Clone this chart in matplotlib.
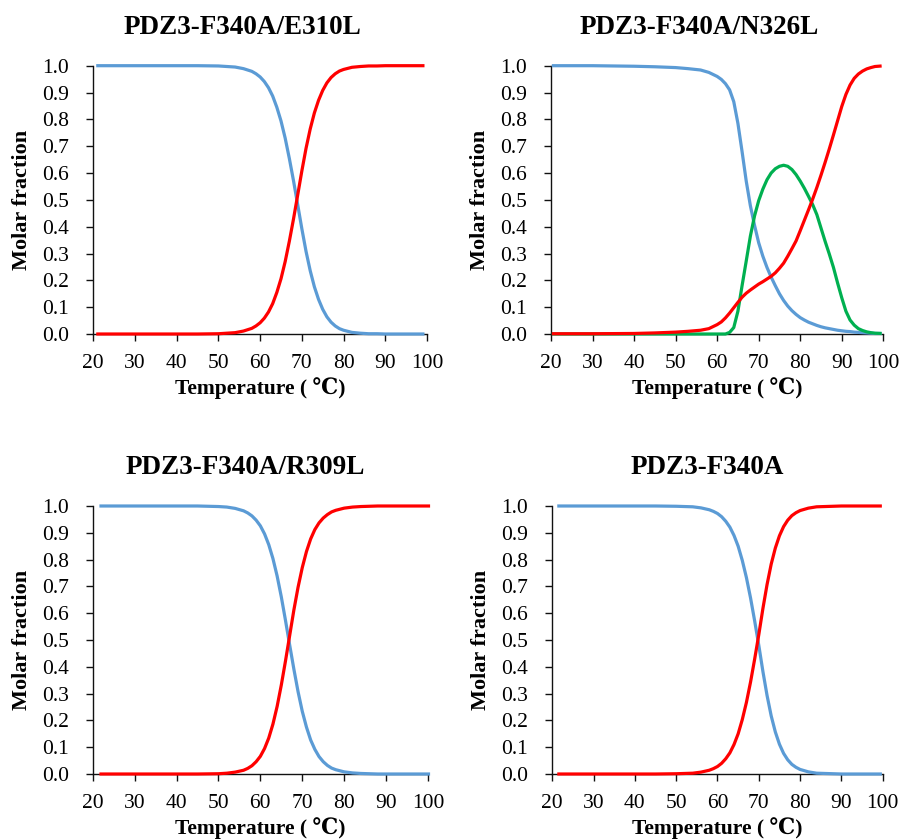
import matplotlib
matplotlib.use("Agg")
import matplotlib.pyplot as plt

plt.rcParams['font.family'] = ['Liberation Serif', 'DejaVu Serif', 'DejaVu Sans']

# ---- data ----
# PDZ3-F340A/E310L
temp_e310l = [20.7, 30, 40, 45, 50, 52, 54, 56, 58, 59, 60, 61, 62, 63, 64, 65, 66, 67, 68, 69,
              70, 71, 72, 73, 74, 75, 76, 77, 78, 79, 80, 82, 84, 86, 88, 90, 95, 99.4]
native_e310l = [1.000, 1.000, 1.000, 1.000, 0.999, 0.997, 0.995, 0.989, 0.979, 0.970, 0.958, 0.941,
                0.918, 0.887, 0.845, 0.794, 0.730, 0.654, 0.571, 0.482, 0.392, 0.308, 0.236, 0.176,
                0.129, 0.092, 0.064, 0.044, 0.030, 0.020, 0.014, 0.006, 0.003, 0.001, 0.001, 0.000,
                0.000, 0.000]
unfolded_e310l = [0.000, 0.000, 0.000, 0.000, 0.001, 0.003, 0.005, 0.011, 0.021, 0.030, 0.042, 0.059,
                  0.082, 0.113, 0.155, 0.206, 0.270, 0.346, 0.429, 0.518, 0.608, 0.692, 0.764, 0.824,
                  0.871, 0.908, 0.936, 0.956, 0.970, 0.980, 0.986, 0.994, 0.997, 0.999, 0.999, 1.000,
                  1.000, 1.000]

# PDZ3-F340A/N326L (three-state)
temp_n326l = [20.2, 30, 40, 45, 50, 53, 56, 58, 60, 61, 62, 63, 64, 65, 66, 67, 68, 69, 70, 71, 72,
              73, 74, 75, 76, 77, 78, 79, 80, 81, 82, 83, 84, 85, 86, 87, 88, 89, 90, 91, 92, 93, 94,
              95, 96, 97, 98, 99.6]
native_n326l = [1.000, 1.000, 0.998, 0.996, 0.993, 0.989, 0.984, 0.975, 0.960, 0.949, 0.933, 0.910,
                0.866, 0.785, 0.680, 0.570, 0.478, 0.405, 0.340, 0.290, 0.248, 0.212, 0.180, 0.150,
                0.125, 0.104, 0.087, 0.073, 0.061, 0.052, 0.044, 0.038, 0.032, 0.027, 0.023, 0.020,
                0.017, 0.014, 0.012, 0.010, 0.009, 0.007, 0.006, 0.005, 0.004, 0.003, 0.002, 0.002]
intermediate_n326l = [0.000, 0.000, 0.000, 0.000, 0.000, 0.000, 0.000, 0.000, 0.000, 0.000, 0.000,
                      0.006, 0.024, 0.085, 0.180, 0.272, 0.365, 0.440, 0.497, 0.540, 0.575, 0.600,
                      0.616, 0.625, 0.629, 0.625, 0.613, 0.594, 0.570, 0.543, 0.513, 0.482, 0.445,
                      0.395, 0.345, 0.298, 0.248, 0.190, 0.135, 0.085, 0.052, 0.033, 0.020, 0.013,
                      0.008, 0.005, 0.003, 0.002]
unfolded_n326l = [0.001, 0.001, 0.002, 0.004, 0.007, 0.010, 0.014, 0.020, 0.035, 0.045, 0.060, 0.078,
                  0.098, 0.118, 0.137, 0.152, 0.164, 0.175, 0.186, 0.195, 0.205, 0.215, 0.228, 0.245,
                  0.264, 0.290, 0.318, 0.347, 0.385, 0.424, 0.463, 0.503, 0.546, 0.592, 0.640, 0.690,
                  0.742, 0.795, 0.848, 0.893, 0.928, 0.953, 0.969, 0.980, 0.988, 0.993, 0.997, 0.999]

# PDZ3-F340A/R309L
temp_r309l = [21.6, 30, 40, 45, 50, 52, 54, 56, 57, 58, 59, 60, 61, 62, 63, 64, 65, 66, 67, 68, 69,
              70, 71, 72, 73, 74, 75, 76, 77, 78, 80, 82, 84, 86, 88, 90, 95, 100.5]
native_r309l = [1.000, 1.000, 1.000, 1.000, 0.998, 0.996, 0.991, 0.982, 0.974, 0.963, 0.947, 0.926,
                0.896, 0.856, 0.804, 0.739, 0.661, 0.573, 0.481, 0.391, 0.307, 0.234, 0.175, 0.127,
                0.092, 0.065, 0.046, 0.032, 0.022, 0.016, 0.008, 0.004, 0.002, 0.001, 0.000, 0.000,
                0.000, 0.000]
unfolded_r309l = [0.000, 0.000, 0.000, 0.000, 0.001, 0.003, 0.007, 0.014, 0.021, 0.031, 0.046, 0.066,
                  0.095, 0.134, 0.186, 0.252, 0.332, 0.422, 0.517, 0.612, 0.697, 0.770, 0.830, 0.877,
                  0.912, 0.937, 0.955, 0.968, 0.978, 0.984, 0.992, 0.996, 0.998, 0.999, 1.000, 1.000,
                  1.000, 1.000]

# PDZ3-F340A
temp_f340a = [21.2, 30, 40, 45, 50, 52, 54, 56, 58, 59, 60, 61, 62, 63, 64, 65, 66, 67, 68, 69,
              70, 71, 72, 73, 74, 75, 76, 77, 78, 79, 80, 82, 84, 86, 88, 90, 95, 99.8]
native_f340a = [1.000, 1.000, 1.000, 1.000, 0.999, 0.998, 0.997, 0.993, 0.986, 0.980, 0.972, 0.960,
                0.943, 0.921, 0.890, 0.850, 0.797, 0.733, 0.657, 0.571, 0.480, 0.382, 0.293, 0.217,
                0.157, 0.111, 0.077, 0.053, 0.036, 0.025, 0.017, 0.008, 0.003, 0.002, 0.001, 0.000,
                0.000, 0.000]
unfolded_f340a = [0.000, 0.000, 0.000, 0.000, 0.001, 0.002, 0.003, 0.007, 0.014, 0.020, 0.028, 0.040,
                  0.057, 0.079, 0.110, 0.150, 0.203, 0.267, 0.343, 0.429, 0.520, 0.618, 0.707, 0.783,
                  0.843, 0.889, 0.923, 0.947, 0.964, 0.975, 0.983, 0.992, 0.997, 0.998, 0.999, 1.000,
                  1.000, 1.000]

titles = ["PDZ3-F340A/E310L", "PDZ3-F340A/N326L", "PDZ3-F340A/R309L", "PDZ3-F340A"]
x_ticks = [20, 30, 40, 50, 60, 70, 80, 90, 100]
y_ticks = [0.0, 0.1, 0.2, 0.3, 0.4, 0.5, 0.6, 0.7, 0.8, 0.9, 1.0]

BLUE = "#5B9BD5"
RED = "#FF0000"
GREEN = "#00B050"

W, H = 903, 839
fig = plt.figure(figsize=(W / 100, H / 100), dpi=100)

# axes box in pixels (left, right, top, bottom), title centre, ylabel x, xlabel y
panels = [
    ((93.3, 427.0, 65.7, 334.0), (242, 27), 22.5, 388),
    ((551.0, 883.3, 65.7, 334.0), (699, 27), 480, 388),
    ((92.7, 428.0, 506.0, 774.0), (245, 468), 22.5, 828),
    ((552.3, 882.7, 506.0, 774.0), (707, 468), 481, 828),
]

series = [
    [(temp_e310l, native_e310l, BLUE), (temp_e310l, unfolded_e310l, RED)],
    [(temp_n326l, native_n326l, BLUE), (temp_n326l, intermediate_n326l, GREEN),
     (temp_n326l, unfolded_n326l, RED)],
    [(temp_r309l, native_r309l, BLUE), (temp_r309l, unfolded_r309l, RED)],
    [(temp_f340a, native_f340a, BLUE), (temp_f340a, unfolded_f340a, RED)],
]

for (box, tpos, ylx, xly), lines, title in zip(panels, series, titles):
    x0, x1, yt, yb = box
    ax = fig.add_axes([x0 / W, 1 - yb / H, (x1 - x0) / W, (yb - yt) / H])
    for t, v, c in lines:
        ax.plot(t, v, color=c, lw=2.3, clip_on=False, zorder=3, solid_capstyle='butt')
    ax.set_xlim(20, 100)
    ax.set_ylim(0, 1)
    ax.set_xticks(x_ticks)
    ax.set_yticks(y_ticks)
    ax.set_yticklabels([f"{v:.1f}" for v in y_ticks])
    for s in ("top", "right"):
        ax.spines[s].set_visible(False)
    for s in ("left", "bottom"):
        ax.spines[s].set_linewidth(1.0)
        ax.spines[s].set_color("#111111")
    ax.tick_params(axis="both", direction="out", length=4.8, width=1.0, color="#111111",
                   labelsize=15.5)
    ax.tick_params(axis="y", pad=12.5)
    ax.tick_params(axis="x", pad=9.5)

    fig.text(tpos[0] / W, 1 - tpos[1] / H, title, ha="center", va="center",
             fontsize=19.5, fontweight="bold")
    fig.text(ylx / W, 1 - (yt + yb) / 2 / H, "Molar fraction", rotation=90,
             ha="center", va="center", fontsize=16, fontweight="bold")
    fig.text((x0 + x1) / 2 / W, 1 - xly / H, "Temperature ( \u2103)", ha="center",
             va="center", fontsize=15.5, fontweight="bold")

fig.savefig("out.png", dpi=100)
